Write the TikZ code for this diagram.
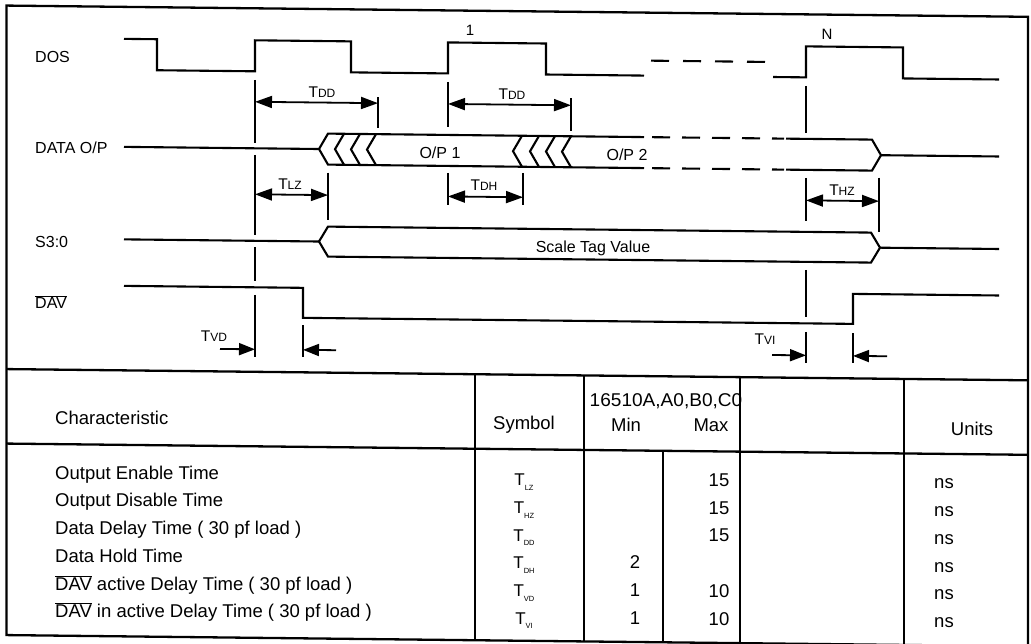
\documentclass[tikz,border=0pt]{standalone}
\usepackage{fontspec}
\setmainfont{Liberation Sans}
\usetikzlibrary{arrows.meta}
\newcommand{\tlab}[1]{{\fontsize{15.5}{15.5}\selectfont T}{\fontsize{12}{12}\selectfont #1}}
\newcommand{\tsym}[1]{T\raisebox{-4.5pt}{\fontsize{7.5}{7.5}\selectfont #1}}
\newcommand{\ovl}[1]{$\overline{\hbox{#1}}$}
\begin{document}
\begin{tikzpicture}[x=1pt,y=-1pt,
  wave/.style={line width=2.1pt, line join=miter},
  dimline/.style={line width=1.8pt},
  sarr/.style={line width=1.8pt, -{Triangle[length=16pt,width=12pt]}},
  darr/.style={line width=1.8pt, {Triangle[length=17pt,width=12pt]}-{Triangle[length=17pt,width=12pt]}},
  frameline/.style={line width=2.3pt},
  sig/.style={font=\fontsize{16}{16}\selectfont, inner sep=0pt, anchor=base west},
  midtxt/.style={font=\fontsize{16}{16}\selectfont, inner sep=0pt, anchor=base},
  tlabel/.style={inner sep=0pt, anchor=base},
  tbl/.style={font=\fontsize{18.5}{18.5}\selectfont, inner sep=0pt, anchor=base west},
  tblc/.style={font=\fontsize{18.5}{18.5}\selectfont, inner sep=0pt, anchor=base},
  symc/.style={font=\fontsize{17}{17}\selectfont, inner sep=0pt, anchor=base}
]
\useasboundingbox (0,0) rectangle (1031,643);
\begin{scope}[cm={1,-0.011,0,1,(0,0)}]
% ---------- frame and table grid ----------
\draw[frameline] (6.5,5.5) rectangle (1028,635);
\draw[frameline] (6.5,369) -- (1028,369);
\draw[frameline] (6.5,443.5) -- (1028,443.5);
\foreach \cx in {475,584,740,904} \draw[frameline] (\cx,369) -- (\cx,635);
\draw[frameline] (663,443.5) -- (663,635);

% ---------- signal names ----------
\node[sig] (ldos) at (35,61.8) {DOS};
\node[sig] (ldata) at (35,153) {DATA O/P};
\node[sig] (ls) at (35,247.5) {S3:0};
\node[sig] (ldav) at (35,308.5) {\ovl{DAV}};
\node[midtxt,font=\fontsize{15}{15}\selectfont] (one) at (470,30) {1};
\node[midtxt,font=\fontsize{15}{15}\selectfont] (enn) at (827,30) {N};

% ---------- DOS ----------
\draw[wave] (124,37.5) -- (157,37.5) -- (157,68.5) -- (255,68.5) -- (255,37.5)
  -- (351,37.5) -- (351,68.5) -- (448,68.5) -- (448,37.5) -- (546,37.5)
  -- (546,68.5) -- (644,68.5);
\draw[wave, dash pattern=on 18pt off 14pt] (651,53.5) -- (767,53.5);
\draw[wave] (773,68.5) -- (806,68.5) -- (806,37.5) -- (903,37.5) -- (903,68.5) -- (999,68.5);

% ---------- DATA O/P ----------
\draw[wave] (124,145.5) -- (319,145.5) -- (328,130) -- (644,130);
\draw[wave] (319,145.5) -- (328,161) -- (644,161);
\draw[wave, dash pattern=on 18pt off 12pt] (652,130) -- (784,130);
\draw[wave, dash pattern=on 18pt off 12pt] (652,161) -- (784,161);
\draw[wave] (786,130) -- (872,130) -- (881,145.5) -- (872,161) -- (786,161);
\draw[wave] (881,145.5) -- (999,145.5);
\foreach \px in {335,351,367,513,530,546,562}
  \draw[wave] (\px+9,130) -- (\px,145.5) -- (\px+9,161);
\node[midtxt] (op1) at (440,153.5) {O/P 1};
\node[midtxt] (op2) at (627,153.5) {O/P 2};

% ---------- S3:0 ----------
\draw[wave] (124,238) -- (319,238);
\draw[wave] (319,238) -- (328,223) -- (871,223) -- (880,238)
  -- (871,253) -- (328,253) -- (319,238);
\draw[wave] (880,238) -- (999,238);
\node[midtxt] (stv) at (593,246.3) {Scale Tag Value};

% ---------- DAV ----------
\draw[wave] (124,284.5) -- (303,284.5) -- (303,314.5) -- (853,314.5) -- (853,284.5) -- (999,284.5);

% ---------- reference lines ----------
\draw[dimline] (255,77) -- (255,140);
\draw[dimline] (255,152) -- (255,232);
\draw[dimline] (255,244) -- (255,278);
\draw[dimline] (255,292) -- (255,354);
\draw[dimline] (378,93) -- (378,124);
\draw[dimline] (448,77) -- (448,122);
\draw[dimline] (571,92) -- (571,125);
\draw[dimline] (328,169) -- (328,216);
\draw[dimline] (448,168) -- (448,200);
\draw[dimline] (523,167) -- (523,199);
\draw[dimline] (806,77) -- (806,124);
\draw[dimline] (806,169) -- (806,212);
\draw[dimline] (806,261) -- (806,308);
\draw[dimline] (806,323) -- (806,354);
\draw[dimline] (879,168) -- (879,222);
\draw[dimline] (303,322) -- (303,354);
\draw[dimline] (853,324) -- (853,354);

% ---------- dimension arrows ----------
\coordinate (a1) at (255,99);  \coordinate (b1) at (378,99);
\coordinate (a2) at (448,99);  \coordinate (b2) at (571,99);
\coordinate (a3) at (255,191.5); \coordinate (b3) at (328,191.5);
\coordinate (a4) at (448,191.5); \coordinate (b4) at (523,191.5);
\coordinate (a5) at (806,191.5); \coordinate (b5) at (879,191.5);
\draw[darr] (a1) -- (b1);
\draw[darr] (a2) -- (b2);
\draw[darr] (a3) -- (b3);
\draw[darr] (a4) -- (b4);
\draw[darr] (a5) -- (b5);
\coordinate (v1s) at (220,346.5); \coordinate (v1e) at (255,346.5);
\coordinate (v2s) at (336,346.5); \coordinate (v2e) at (303,346.5);
\coordinate (v3s) at (772,346.5); \coordinate (v3e) at (806,346.5);
\coordinate (v4s) at (887,346.5); \coordinate (v4e) at (853,346.5);
\draw[sarr] (v1s) -- (v1e);
\draw[sarr] (v2s) -- (v2e);
\draw[sarr] (v3s) -- (v3e);
\draw[sarr] (v4s) -- (v4e);

\node[tlabel] (tdd1) at (322,93.5) {\tlab{DD}};
\node[tlabel] (tdd2) at (512,94) {\tlab{DD}};
\node[tlabel] (tlz) at (290,186.5) {\tlab{LZ}};
\node[tlabel] (tdh) at (484,185) {\tlab{DH}};
\node[tlabel] (thz) at (842,186.5) {\tlab{HZ}};
\node[tlabel] (tvd) at (214,339.5) {\tlab{VD}};
\node[tlabel] (tvi) at (765,336.5) {\tlab{VI}};

% ---------- table header ----------
\node[tbl] (hchar) at (55,423.7) {Characteristic};
\node[tblc] (hsym) at (524,424) {Symbol};
\node[tblc] (hdev) at (666,399.3) {\scalebox{1.03}[1]{16510A,A0,B0,C0}};
\node[tblc] (hmin) at (626,424.5) {Min};
\node[tblc] (hmax) at (711,424) {Max};
\node[tblc] (hunit) at (972,424.5) {Units};

% ---------- table rows ----------
\foreach \i/\txt/\sym/\mn/\mx in {
  0/{Output Enable Time}/LZ//15,
  1/{Output Disable Time}/HZ//15,
  2/{Data Delay Time ( 30 pf load )}/DD//15,
  3/{Data Hold Time}/DH/2/,
  4/{\ovl{DAV} active Delay Time ( 30 pf load )}/VD/1/10,
  5/{\ovl{DAV} in active Delay Time ( 30 pf load )}/VI/1/10}{
  \pgfmathsetmacro{\yb}{478.6+27.7*\i}
  \node[tbl] (r\i) at (55,\yb) {\txt};
  \node[symc] (s\i) at (524,\yb+1.5) {\tsym{\sym}};
  \node[tblc] (mn\i) at (635,\yb) {\mn};
  \node[tblc] (mx\i) at (719,\yb) {\mx};
  \node[tblc] (u\i) at (944,\yb) {ns};
}
\end{scope}
\end{tikzpicture}
\end{document}
